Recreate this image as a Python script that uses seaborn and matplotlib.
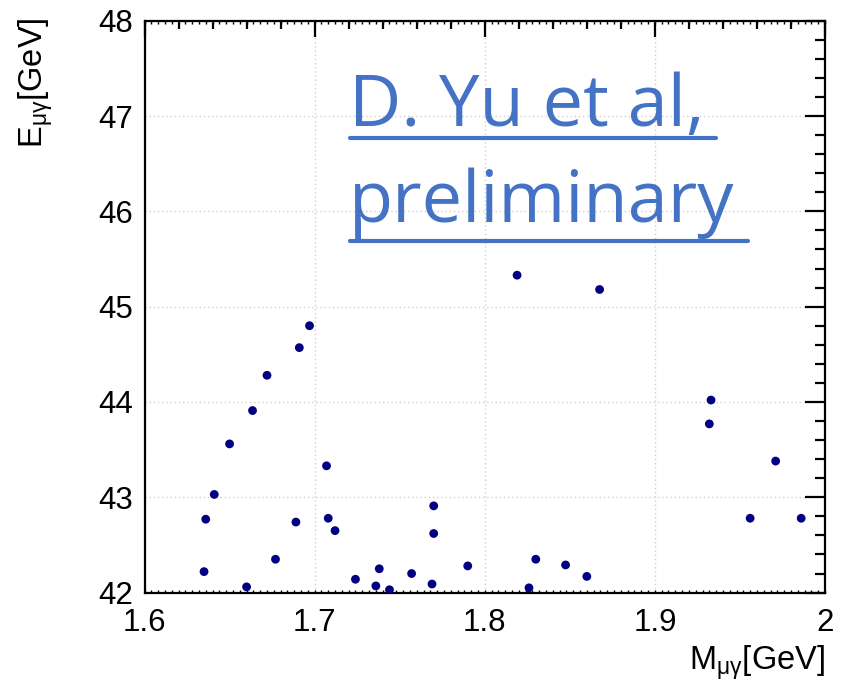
import numpy as np
import pandas as pd
import matplotlib
matplotlib.use("Agg")
import matplotlib.pyplot as plt
import seaborn as sns
from matplotlib.ticker import MultipleLocator
from matplotlib.lines import Line2D

# ---- data ----
m_mugamma = [1.697, 1.691, 1.672, 1.6635, 1.650, 1.641, 1.636, 1.635, 1.660, 1.677,
             1.689, 1.707, 1.708, 1.712, 1.724, 1.736, 1.738, 1.744, 1.757, 1.769,
             1.770, 1.770, 1.790, 1.819, 1.830, 1.826, 1.8475, 1.860, 1.8675, 1.933,
             1.932, 1.971, 1.956, 1.986]
e_mugamma = [44.80, 44.57, 44.28, 43.91, 43.56, 43.03, 42.77, 42.22, 42.06, 42.35,
             42.74, 43.33, 42.78, 42.65, 42.14, 42.07, 42.25, 42.03, 42.20, 42.09,
             42.62, 42.91, 42.28, 45.33, 42.35, 42.05, 42.29, 42.17, 45.18, 44.02,
             43.77, 43.38, 42.78, 42.78]
x_ticks = [1.6, 1.7, 1.8, 1.9, 2.0]
x_ticklabels = ["1.6", "1.7", "1.8", "1.9", "2"]
y_ticks = [42, 43, 44, 45, 46, 47, 48]
y_ticklabels = ["42", "43", "44", "45", "46", "47", "48"]
x_label = r"M$_{\mathrm{μγ}}$[GeV]"
y_label = r"E$_{\mathrm{μγ}}$[GeV]"
note_lines = ["D. Yu et al,", "preliminary"]

df = pd.DataFrame({"M": m_mugamma, "E": e_mugamma})

sns.set_theme(style="white")
plt.rcParams["font.family"] = ["Liberation Sans", "DejaVu Sans"]
plt.rcParams["mathtext.fontset"] = "custom"
plt.rcParams["mathtext.rm"] = "Liberation Sans"
plt.rcParams["mathtext.it"] = "Liberation Sans:italic"
plt.rcParams["text.color"] = "black"

W, H = 861, 684
fig = plt.figure(figsize=(W / 100, H / 100), dpi=100)
ax = fig.add_axes([144.5 / W, 1 - 592.6 / H, (825 - 144.5) / W, (592.6 - 20.7) / H])

sns.scatterplot(data=df, x="M", y="E", ax=ax, color="#000080", s=40,
                edgecolor="none", marker="o", zorder=3)

ax.set_xlim(1.6, 2.0)
ax.set_ylim(42, 48)
ax.set_xticks(x_ticks)
ax.set_xticklabels(x_ticklabels)
ax.set_yticks(y_ticks)
ax.set_yticklabels(y_ticklabels)
ax.xaxis.set_minor_locator(MultipleLocator(0.02))
ax.yaxis.set_minor_locator(MultipleLocator(0.2))
ax.set_xlabel("")
ax.set_ylabel("")

for sp in ax.spines.values():
    sp.set_visible(True)
    sp.set_linewidth(1.6)
    sp.set_color("black")

ax.tick_params(which="both", direction="in", top=True, right=True, color="black",
               width=1.6, labelcolor="black")
ax.tick_params(axis="x", which="major", length=11.5, labelsize=22.5, pad=11)
ax.tick_params(axis="x", which="minor", length=5.5)
ax.tick_params(axis="y", which="major", length=14.5, labelsize=22.5, pad=8)
ax.tick_params(axis="y", which="minor", length=7.5)

# tertiary ticks on top and bottom
for loc in ("bottom", "top"):
    sec = ax.secondary_xaxis(loc)
    sec.set_xticks(np.arange(1.6, 2.0001, 0.004))
    sec.tick_params(direction="in", length=2.5, width=1.0, color="black",
                    labelbottom=False, labeltop=False)
    for sp in sec.spines.values():
        sp.set_visible(False)

ax.grid(True, which="major", linestyle=(0, (1, 2)), color="#cfcfcf", linewidth=1.0)
ax.set_axisbelow(True)

fig.text(825 / W, 1 - 670 / H, x_label, ha="right", va="baseline", fontsize=23.5, color="black")
fig.text(36 / W, 1 - 17 / H, y_label, ha="center", va="top", rotation=90, fontsize=23.5, color="black")

blue = "#4472C4"
fig.text(349 / W, 1 - 126 / H, note_lines[0], ha="left", va="baseline",
         fontsize=52, color=blue, family=["Open Sans", "DejaVu Sans"])
fig.text(349 / W, 1 - 222 / H, note_lines[1], ha="left", va="baseline",
         fontsize=52, color=blue, family=["Open Sans", "DejaVu Sans"])
fig.add_artist(Line2D([350 / W, 716 / W], [1 - 138 / H, 1 - 138 / H], color=blue, lw=3))
fig.add_artist(Line2D([350 / W, 748 / W], [1 - 241 / H, 1 - 241 / H], color=blue, lw=3))

fig.savefig("out.png", dpi=100, facecolor="white")
